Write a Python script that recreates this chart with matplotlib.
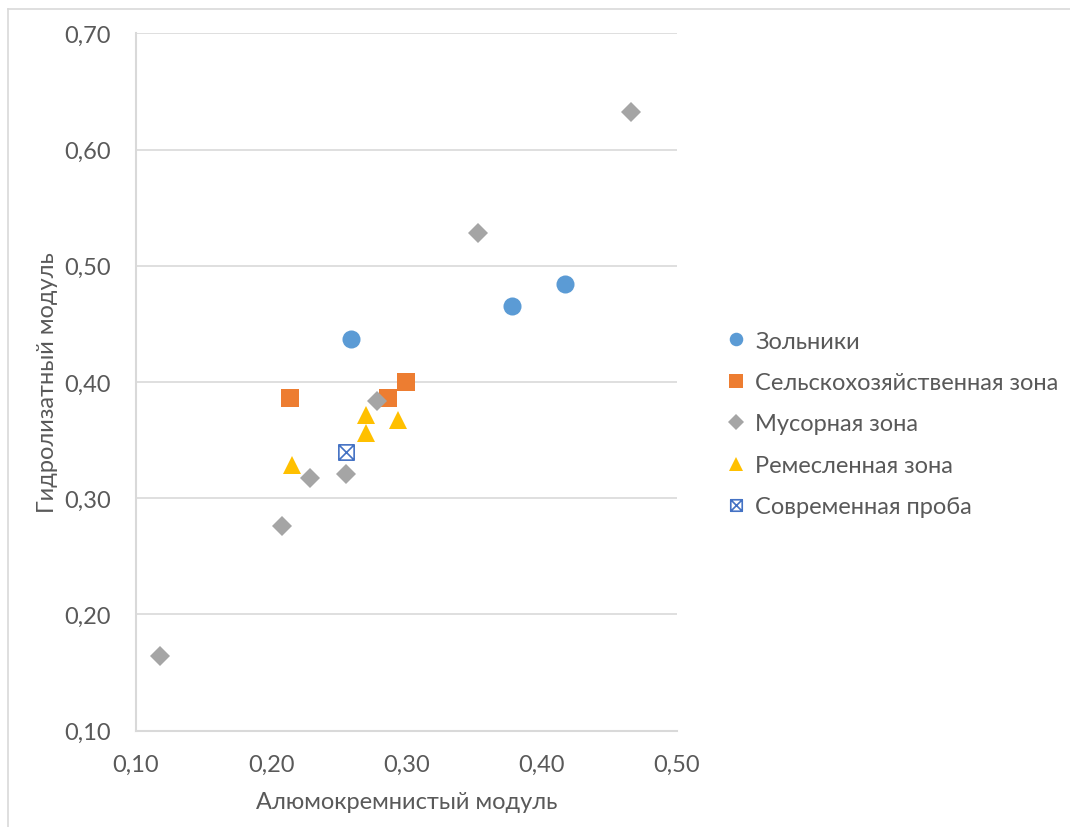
import matplotlib
matplotlib.use("Agg")
import matplotlib.pyplot as plt
from matplotlib.path import Path
from matplotlib.lines import Line2D

plt.rcParams['font.family'] = ['Lato', 'DejaVu Sans']

# Alumosilicate modulus (x) vs hydrolysate modulus (y) per zone
zolniki_x = [0.259, 0.378, 0.417]
zolniki_y = [0.437, 0.465, 0.484]

selhoz_x = [0.214, 0.286, 0.300]
selhoz_y = [0.386, 0.386, 0.400]

musor_x = [0.118, 0.208, 0.229, 0.255, 0.278, 0.353, 0.466]
musor_y = [0.164, 0.276, 0.317, 0.321, 0.384, 0.528, 0.632]

remeslo_x = [0.215, 0.270, 0.270, 0.294]
remeslo_y = [0.329, 0.372, 0.356, 0.367]

modern_x = [0.255]
modern_y = [0.340]

series_labels = ["Зольники", "Сельскохозяйственная зона", "Мусорная зона",
                 "Ремесленная зона", "Современная проба"]

x_ticks = [0.10, 0.20, 0.30, 0.40, 0.50]
y_ticks = [0.10, 0.20, 0.30, 0.40, 0.50, 0.60, 0.70]

text_color = "#595959"
grid_color = "#d9d9d9"
fs = 17

# square with crossed diagonals
boxx = Path(
    [(-0.5, -0.5), (0.5, -0.5), (0.5, 0.5), (-0.5, 0.5), (-0.5, -0.5),
     (-0.5, -0.5), (0.5, 0.5), (-0.5, 0.5), (0.5, -0.5)],
    [Path.MOVETO, Path.LINETO, Path.LINETO, Path.LINETO, Path.CLOSEPOLY,
     Path.MOVETO, Path.LINETO, Path.MOVETO, Path.LINETO])

fig = plt.figure(figsize=(10.7, 8.28), dpi=100)
ax = fig.add_axes([0.1271, 0.1163, 0.5056, 0.8423])

ax.plot(zolniki_x, zolniki_y, 'o', color="#5B9BD5", markersize=13,
        markeredgewidth=0, label=series_labels[0], zorder=3)
ax.plot(selhoz_x, selhoz_y, 's', color="#ED7D31", markersize=13,
        markeredgewidth=0, label=series_labels[1], zorder=3)
ax.plot(musor_x, musor_y, 'D', color="#A5A5A5", markersize=10.5,
        markeredgewidth=0, label=series_labels[2], zorder=3)
ax.plot(remeslo_x, remeslo_y, '^', color="#FFC000", markersize=13,
        markeredgewidth=0, label=series_labels[3], zorder=3)
ax.plot(modern_x, modern_y, linestyle='none', marker=boxx, markersize=11,
        markerfacecolor='none', markeredgecolor="#4472C4", markeredgewidth=1.2,
        label=series_labels[4], zorder=3)

ax.set_xlim(0.10, 0.50)
ax.set_ylim(0.10, 0.70)
ax.set_xticks(x_ticks)
ax.set_yticks(y_ticks)
ax.set_xticklabels([f"{v:.2f}".replace('.', ',') for v in x_ticks])
ax.set_yticklabels([f"{v:.2f}".replace('.', ',') for v in y_ticks])
ax.tick_params(length=0, labelsize=fs, colors=text_color)
ax.tick_params(axis='x', pad=16.5)
ax.tick_params(axis='y', pad=18)

ax.grid(axis='y', color=grid_color, linewidth=1.2)
ax.set_axisbelow(True)
for side in ('top', 'right'):
    ax.spines[side].set_visible(False)
for side in ('left', 'bottom'):
    ax.spines[side].set_color(grid_color)
    ax.spines[side].set_linewidth(1.5)

ax.set_xlabel("Алюмокремнистый модуль", fontsize=fs, color=text_color, labelpad=11.5)
ax.set_ylabel("Гидролизатный модуль", fontsize=fs, color=text_color, labelpad=4.5)

leg = ax.legend(loc='center left', bbox_to_anchor=(1.057, 0.4398), frameon=False,
                fontsize=fs, labelcolor=text_color, markerscale=0.75,
                handlelength=0.6, handletextpad=0.5, labelspacing=0.865)

# thin outer chart-area border (top and left edges)
fig.add_artist(Line2D([8 / 1070, 1.0], [1 - 10 / 828, 1 - 10 / 828],
                      color=grid_color, linewidth=1.2, transform=fig.transFigure))
fig.add_artist(Line2D([8 / 1070, 8 / 1070], [0.0, 1 - 10 / 828],
                      color=grid_color, linewidth=1.2, transform=fig.transFigure))

fig.savefig("out.png", dpi=100, facecolor='white')
